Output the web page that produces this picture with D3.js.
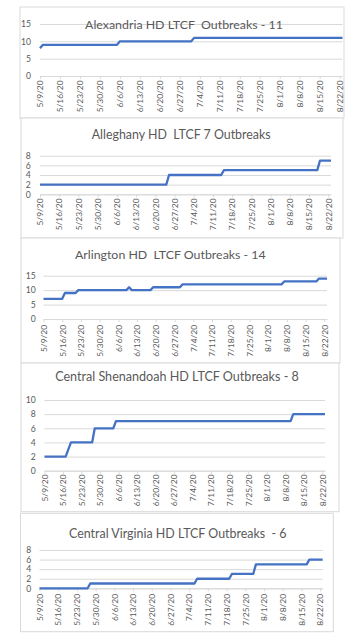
<!DOCTYPE html>
<html><head><meta charset="utf-8">
<script src="https://cdn.jsdelivr.net/npm/d3@7"></script>
<style>body{margin:0;background:#fff}svg{display:block}</style>
</head><body>
<svg id="c" width="358" height="643"></svg>
<script>
// ---- data ----
const tickLabels = ["5/9/20","5/16/20","5/23/20","5/30/20","6/6/20","6/13/20","6/20/20","6/27/20","7/4/20","7/11/20","7/18/20","7/25/20","8/1/20","8/8/20","8/15/20","8/22/20"];
const domainDates = ["5/9/20","8/23/20"];

const titles = ["Alexandria HD LTCF  Outbreaks - 11","Alleghany HD  LTCF 7 Outbreaks","Arlington HD  LTCF Outbreaks - 14","Central Shenandoah HD LTCF Outbreaks - 8","Central Virginia HD LTCF Outbreaks  - 6"];

const alexDates = ["5/9/20","5/10/20","6/5/20","6/6/20","7/1/20","7/2/20","8/23/20"];
const alexValues = [8,9,9,10,10,11,11];
const alexYTicks = [0,5,10,15];

const allegDates = ["5/9/20","6/24/20","6/25/20","7/14/20","7/15/20","8/18/20","8/19/20","8/23/20"];
const allegValues = [2,2,4,4,5,5,7,7];
const allegYTicks = [0,2,4,6,8];

const arlDates = ["5/9/20","5/16/20","5/17/20","5/21/20","5/22/20","6/9/20","6/10/20","6/11/20","6/18/20","6/19/20","6/29/20","6/30/20","8/6/20","8/7/20","8/19/20","8/20/20","8/23/20"];
const arlValues = [7,7,9,9,10,10,11,10,10,11,11,12,12,13,13,14,14];
const arlYTicks = [0,5,10,15];

const shenDates = ["5/9/20","5/17/20","5/19/20","5/27/20","5/28/20","6/4/20","6/5/20","8/10/20","8/11/20","8/23/20"];
const shenValues = [2,2,4,4,6,6,7,7,8,8];
const shenYTicks = [0,2,4,6,8,10];

const cvaDates = ["5/9/20","5/27/20","5/28/20","7/6/20","7/7/20","7/19/20","7/20/20","7/28/20","7/29/20","8/17/20","8/18/20","8/23/20"];
const cvaValues = [0,0,1,1,2,2,3,3,5,5,6,6];
const cvaYTicks = [0,2,4,6,8];

// ---- layout ----
const layout = [
  {box:[20,7,344,118], pl:40, pr:342.5, yb:76, yt:24, tx:184, ty:29.3, tw:198, lx:31, dt:80.5},
  {box:[21,118,343,238], pl:40, pr:331, yb:194.3, yt:155.7, tx:181.2, ty:139, tw:179, lx:30.7, dt:198.5},
  {box:[21,238,340,363], pl:43.5, pr:327, yb:319, yt:275.7, tx:170.3, ty:259, tw:190.7, lx:35.7, dt:325},
  {box:[21,363,339,511.7], pl:44.5, pr:325, yb:470.7, yt:400, tx:177, ty:380.7, tw:244, lx:35.7, dt:474.5},
  {box:[20.5,513.3,333.3,631.7], pl:39.5, pr:322.7, yb:588.3, yt:550, tx:177.8, ty:538.3, tw:217.7, lx:31.3, dt:594}
];

const series = [
  {dates:alexDates, values:alexValues, yticks:alexYTicks},
  {dates:allegDates, values:allegValues, yticks:allegYTicks},
  {dates:arlDates, values:arlValues, yticks:arlYTicks},
  {dates:shenDates, values:shenValues, yticks:shenYTicks},
  {dates:cvaDates, values:cvaValues, yticks:cvaYTicks}
];

const parse = d3.timeParse("%m/%d/%y");
const fmt = d3.timeFormat("%-m/%-d/%y");
const FONT = "Lato, 'Open Sans', sans-serif";
const GRID = "#d9d9d9", TXT = "#595959", BLUE = "#4472C4";
const svg = d3.select("#c");

series.forEach((s, i) => {
  const L = layout[i];
  const g = svg.append("g");
  const [x0,y0,x1,y1] = L.box;
  g.append("rect").attr("x",x0).attr("y",y0).attr("width",x1-x0).attr("height",y1-y0)
    .attr("fill","#fff").attr("stroke",GRID).attr("stroke-width",1);

  const x = d3.scaleTime().domain(domainDates.map(parse)).range([L.pl, L.pr]);
  const ymax = d3.max(s.yticks);
  const y = d3.scaleLinear().domain([0, ymax]).range([L.yb, L.yt]);

  // gridlines
  const grid = g.append("g").attr("transform",`translate(${L.pl},0)`)
    .call(d3.axisLeft(y).tickValues(s.yticks).tickSize(-(L.pr-L.pl)).tickFormat(""));
  grid.select(".domain").remove();
  grid.selectAll("line").attr("stroke",GRID).attr("stroke-width",1);

  // y labels
  const ya = g.append("g").attr("transform",`translate(${L.lx},0)`)
    .call(d3.axisLeft(y).tickValues(s.yticks).tickSize(0).tickPadding(0));
  ya.select(".domain").remove();
  ya.selectAll("text").attr("fill",TXT).style("font-family",FONT).style("font-size","8.6px");

  // x axis
  const xa = g.append("g").attr("transform",`translate(0,${L.yb})`)
    .call(d3.axisBottom(x).tickValues(tickLabels.map(parse)).tickSize(3).tickSizeOuter(0).tickFormat(fmt));
  xa.select(".domain").attr("stroke",GRID);
  xa.selectAll(".tick line").attr("stroke",GRID);
  xa.selectAll("text")
    .attr("transform","rotate(-90)")
    .attr("x", -(L.dt - L.yb)).attr("y",0).attr("dy","0.33em")
    .attr("text-anchor","end").attr("fill",TXT)
    .style("font-family",FONT).style("font-size","8.4px");

  // line
  const pts = s.dates.map((d,k)=>({date:parse(d), v:s.values[k]}));
  g.append("path").datum(pts)
    .attr("d", d3.line().x(d=>x(d.date)).y(d=>y(d.v)))
    .attr("fill","none").attr("stroke",BLUE).attr("stroke-width",2.3)
    .attr("stroke-linejoin","round");

  // title
  const t = g.append("text").attr("x",L.tx).attr("y",L.ty).attr("text-anchor","middle")
    .attr("fill",TXT).style("font-family",FONT).style("white-space","pre")
    .style("font-size","14px").text(titles[i]);
  const w = t.node().getComputedTextLength();
  t.style("font-size", (14*L.tw/w).toFixed(2)+"px");
});
</script>
</body></html>
